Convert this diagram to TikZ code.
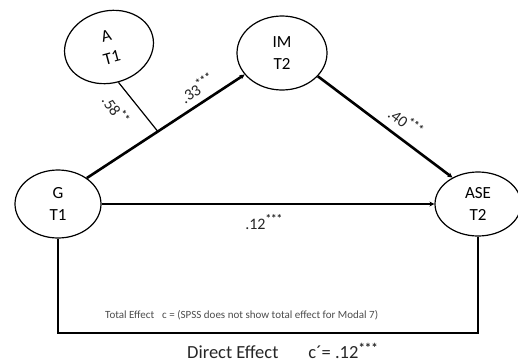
\documentclass[tikz,border=0pt]{standalone}
\usepackage{fontspec}
\setmainfont{Carlito}
\usetikzlibrary{shapes.geometric,arrows.meta,calc}
\begin{document}
\begin{tikzpicture}[x=1pt,y=-1pt,
  latent/.style={draw, ellipse, line width=1.2pt, inner sep=0pt, align=center, font=\fontsize{17}{22}\selectfont},
  pathline/.style={line width=2.6pt, -{Stealth[length=5pt,width=5pt]}},
  coef/.style={font=\fontsize{16}{18}\selectfont, text=black!85, inner sep=1pt},
  stars/.style={}]
\useasboundingbox (0,0) rectangle (518,362);
\node[latent, minimum width=90pt, minimum height=72pt, rotate=15] (A) at (109,47) {A\\T1};
\node[latent, minimum width=90pt, minimum height=74pt] (IM) at (282,53) {IM\\T2};
\node[latent, minimum width=86pt, minimum height=68pt] (G) at (58,204) {G\\T1};
\node[latent, minimum width=86pt, minimum height=64pt] (ASE) at (478,204) {ASE\\T2};
\draw[pathline] (G.42) -- (IM.210);
\coordinate (J) at ($(G.42)!0.45!(IM.210)$);
\draw[line width=1.2pt] (A.south) -- (J);
\draw[pathline] (IM.-33) -- (ASE.134);
\draw[line width=2pt, -{Stealth[length=5pt,width=5pt]}] (G.east) -- (ASE.west);
\coordinate (base) at (0,333);
\draw[line width=1.5pt] (G.south) -- (G.south |- base);
\draw[line width=1.5pt] (ASE.south) -- (ASE.south |- base);
\draw[line width=2.6pt, shorten <=-1pt, shorten >=-1pt] (G.south |- base) -- (ASE.south |- base);
\node[coef, rotate=-55] (l58) at (116,110) {.58\textsuperscript{\textbf{**}}};
\node[coef, rotate=33] (l33) at (197,88) {.33\textsuperscript{\textbf{***}}};
\node[coef, rotate=-37] (l40) at (406,122) {.40\textsuperscript{\textbf{***}}};
\node[coef] (l12) at (264,222) {.12\textsuperscript{\textbf{***}}};
\node[font=\fontsize{11}{13}\selectfont, text=black!70, anchor=west, inner sep=0pt] (tot) at (105,315) {Total Effect\hspace{8pt}c = (SPSS does not show total effect for Modal 7)};
\node[font=\fontsize{18.5}{20}\selectfont, text=black!85, anchor=west, inner sep=0pt] (dir) at (187,351) {Direct Effect\hspace{30pt}c´= .12\textsuperscript{\textbf{***}}};
\end{tikzpicture}
\end{document}
